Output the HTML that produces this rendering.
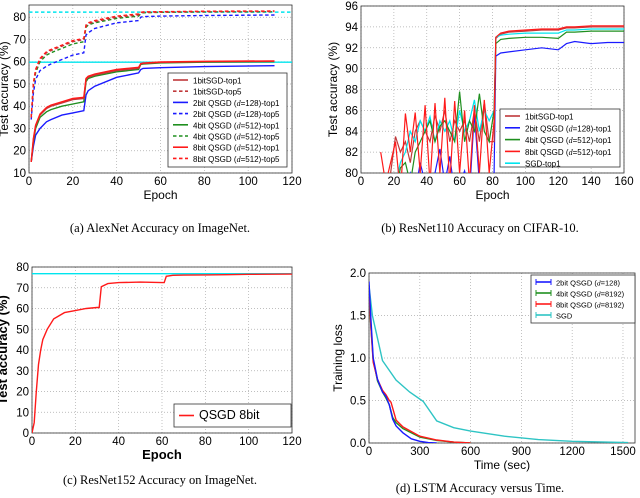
<!DOCTYPE html>
<html><head><meta charset="utf-8"><style>
body{margin:0;background:#fff;width:640px;height:498px;overflow:hidden}
svg{display:block;font-family:"Liberation Sans",sans-serif}
.cap{font-family:"Liberation Serif",serif;font-size:12.5px}
</style></head><body>
<svg id="fig" width="640" height="498" viewBox="0 0 640 498">
<text class="cap" x="160" y="232" text-anchor="middle">(a)  AlexNet Accuracy on ImageNet.</text>
<text class="cap" x="480" y="232" text-anchor="middle">(b)  ResNet110 Accuracy on CIFAR-10.</text>
<text class="cap" x="160" y="484" text-anchor="middle">(c)  ResNet152 Accuracy on ImageNet.</text>
<text class="cap" x="480" y="492" text-anchor="middle">(d)  LSTM Accuracy versus Time.</text>
</svg>
<script>
// ---- Panel (a) data ----
const aEpochs=[1,2,3,5,8,10,15,20,25,26,27,30,40,50,51,52,60,80,112];
const a1bitTop1=[15,25,31,36,39,40,41.5,43,43.5,52,53,54,56,57,59,59.2,59.7,60,60.2];
const a1bitTop5=[35,50,56,61,64,65,67,69,70,76,77,78,80,81,82,82.2,82.3,82.5,82.6];
const a2bitTop1=[15,22,27,30,33,34,36,37,38,45,47,49,53,55,56.5,57,57.3,57.8,58.2];
const a2bitTop5=[34,46,52,56,58,59,61,63,64,72,73,75,77.5,78.5,80,80.3,80.5,80.8,81];
const a4bitTop1=[15,24,30,35,37.5,38.5,40,41,42,51,52.5,53.5,55.5,56.5,58.8,59,59.5,59.8,60];
const a4bitTop5=[35,49,55,60,63,64,66,68,69,75.5,76.5,77.5,79.5,80.5,81.7,82,82.2,82.4,82.5];
const a8bitTop1=[15,25.5,31.5,36.5,39.5,40.5,42,43.5,44,52.5,53.5,54.5,56.5,57.5,59.2,59.4,59.9,60.2,60.4];
const a8bitTop5=[35,50.5,56.5,61.5,64.5,65.5,67.5,69.5,70.5,76.5,77.5,78.5,80.5,81.5,82.2,82.4,82.5,82.7,82.8];
const aRefTop1=59.8, aRefTop5=82.3;
// ---- Panel (b) data ----
const bPreEpochs=[12,15,18,21,24,27,30,33,36,39,42,45,48,51,54,57,60,63,66,69,72,75,78,81];
const b8bitPre=[82,79,81,83,78,85.7,82,85.8,80,86.5,79,86.7,80,87.2,79,86.9,80,86,79,86.5,80,87,80,85];
const b1bitPre=[79,79,80,83.5,82,83,81,84,85,84,83,85.5,84,86,83,85,84,85,83,86,83,86.8,83,83];
const bSgdPre=[78,78,78,79,81,82,84,83,85,84,85.4,83,85,84,85,83,86,84,85,87,84,86,85,86];
const b4bitPre=[78,78,78,78,80.5,81,79,82,83,84,85,83,84.5,85,84,83,87.8,83,85,84,87.6,84,83,86];
const b2bitPre=[75,76,76,77,78,79,80,78,81,79,79,80,82.3,79,81.6,78,79,80.2,78,85.8,79,78,77,80];
const bPostEpochs=[82,85,90,100,110,120,125,130,140,150,160];
const b8bitPost=[93,93.4,93.6,93.7,93.8,93.8,94,94,94.1,94.1,94.1];
const b1bitPost=[92.9,93.3,93.5,93.6,93.7,93.7,93.9,93.9,94,94,94];
const bSgdPost=[93,93.2,93.3,93.4,93.4,93.4,93.7,93.7,93.8,93.8,93.8];
const b4bitPost=[92.4,92.8,92.9,93,93,92.9,93.5,93.5,93.6,93.6,93.6];
const b2bitPost=[91.2,91.5,91.6,91.8,92,91.8,92.4,92.6,92.4,92.5,92.5];
// ---- Panel (c) data ----
const cEpochs=[0,1,2,3,4,5,7,10,15,20,25,30,31,32,35,40,50,60,61,62,65,70,80,90,100,120];
const cQsgd8=[0,5,20,33,40,45,50,55,58,59,60,60.5,60.5,70.5,72,72.5,72.7,72.5,72.5,75.5,76,76.1,76.2,76.3,76.5,76.6];
const cRef=76.8;
// ---- Panel (d) data ----
const d2bitT=[0,10,25,50,80,100,120,140,160,200,250,300,350,400];
const d2bitL=[1.9,1.5,1.0,0.75,0.6,0.55,0.45,0.28,0.2,0.12,0.05,0.02,0.005,0];
const d4bitT=[0,10,25,50,80,100,120,140,160,200,300,400,500,600];
const d4bitL=[1.85,1.4,0.98,0.73,0.6,0.53,0.45,0.3,0.24,0.17,0.07,0.03,0.01,0];
const d8bitT=[0,10,25,50,80,100,120,130,160,200,300,400,500,600];
const d8bitL=[1.85,1.4,0.95,0.75,0.62,0.57,0.5,0.48,0.27,0.19,0.08,0.035,0.01,0];
const dSgdT=[0,20,80,160,240,320,400,500,600,800,1000,1200,1530];
const dSgdL=[1.85,1.5,0.97,0.74,0.6,0.49,0.26,0.18,0.14,0.08,0.04,0.02,0.005];
// tick labels
const aXTicks=[0,20,40,60,80,100,120], aYTicks=[10,20,30,40,50,60,70,80];
const bXTicks=[0,20,40,60,80,100,120,140,160], bYTicks=[80,82,84,86,88,90,92,94,96];
const cXTicks=[0,20,40,60,80,100,120], cYTicks=[0,10,20,30,40,50,60,70,80];
const dXTicks=[0,300,600,900,1200,1500], dYTicks=[0,0.5,1,1.5,2];

const NS='http://www.w3.org/2000/svg';
const fig=document.getElementById('fig');
function el(tag,attrs,parent){const e=document.createElementNS(NS,tag);for(const k in attrs)e.setAttribute(k,attrs[k]);(parent||fig).appendChild(e);return e;}

function panel(id,L,R,T,B,x0,x1,y0,y1,xt,yt,fmtY,xlabel,ylabel,bold,fs,ylOff,lfs){
  const g=el('g',{});
  
  
  const sx=v=>L+(v-x0)/(x1-x0)*(R-L), sy=v=>B-(v-y0)/(y1-y0)*(B-T);
  const cp=el('clipPath',{id:'clip-'+id},g);el('rect',{x:L,y:T,width:R-L,height:B-T},cp);
  xt.forEach(v=>{const x=sx(v);
    const gl=el('line',{x1:x,x2:x,y1:T,y2:B,stroke:'#aaa','stroke-width':0.7,'stroke-dasharray':'1,2'},g);
    
    
    const t=el('text',{x:x,y:B+12,'text-anchor':'middle','font-size':fs},g);t.textContent=v;
    
    });
  yt.forEach(v=>{const y=sy(v);
    const gl=el('line',{x1:L,x2:R,y1:y,y2:y,stroke:'#aaa','stroke-width':0.7,'stroke-dasharray':'1,2'},g);
    
    
    const t=el('text',{x:L-3,y:y+4,'text-anchor':'end','font-size':fs},g);t.textContent=fmtY(v);
    
    });
  const fr=el('rect',{x:L,y:T,width:R-L,height:B-T,fill:'none',stroke:'#333','stroke-width':0.8},g);
  
  
  const xl=el('text',{x:(L+R)/2,y:B+26,'text-anchor':'middle','font-size':lfs,'font-weight':bold?'bold':'normal'},g);xl.textContent=xlabel;
  
  
  const yl=el('text',{transform:`translate(${L-ylOff},${(T+B)/2}) rotate(-90)`,'text-anchor':'middle','font-size':lfs,'font-weight':bold?'bold':'normal'},g);yl.textContent=ylabel;
  
  
  const plot=el('g',{'clip-path':`url(#clip-${id})`},g);
  return {g,plot,sx,sy};
}
function line(p,xs,ys,color,name,dash,w){
  const d=xs.map((x,i)=>(i?'L':'M')+p.sx(x).toFixed(1)+','+p.sy(ys[i]).toFixed(1)).join('');
  const pa=el('path',{d:d,fill:'none',stroke:color,'stroke-width':w||1.4,'stroke-dasharray':dash||'none'},p.plot);
  
  
}
function hline(p,v,x0,x1,color,name,dash){
  const l=el('line',{x1:p.sx(x0),x2:p.sx(x1),y1:p.sy(v),y2:p.sy(v),stroke:color,'stroke-width':1.4,'stroke-dasharray':dash||'none'},p.plot);
  
  
}
function legend(p,x,y,w,h,items,fs,rowH,x0,errbar){
  const lg=el('g',{},p.g);
  
  
  el('rect',{x:x,y:y,width:w,height:h,fill:'#fff',stroke:'#333','stroke-width':0.8},lg);
  items.forEach((it,i)=>{const yy=y+x0+i*rowH;
    const e=el('g',{},lg);
    
    
    el('line',{x1:x+5,x2:x+20,y1:yy,y2:yy,stroke:it[1],'stroke-width':1.6,'stroke-dasharray':it[2]||'none'},e);
    if(errbar){el('line',{x1:x+5,x2:x+5,y1:yy-3,y2:yy+3,stroke:it[1]},e);el('line',{x1:x+20,x2:x+20,y1:yy-3,y2:yy+3,stroke:it[1]},e);}
    const t=el('text',{x:x+25,y:yy+3.5,'font-size':fs},e);t.innerHTML=it[0];});
}
const DR='#c0393b',R='#ff1a1a',G='#1f8f1f',B='#1a1aff',C='#00e5ee',DS='3.5,2.5';
const dd='<tspan font-style="italic" font-family="Liberation Serif">d</tspan>';
// (a)
const pa=panel('a',29,292,5,173,0,120,10,85.5,aXTicks,aYTicks,v=>v,'Epoch','Test accuracy (%)',false,11.5,21,12);
hline(pa,aRefTop5,0,120,C,'sgd-top5-reference',DS);hline(pa,aRefTop1,0,120,C,'sgd-top1-reference');
line(pa,aEpochs,a2bitTop5,B,'series-2bit-top5',DS);line(pa,aEpochs,a4bitTop5,G,'series-4bit-top5',DS);
line(pa,aEpochs,a1bitTop5,DR,'series-1bit-top5',DS);line(pa,aEpochs,a8bitTop5,R,'series-8bit-top5',DS);
line(pa,aEpochs,a2bitTop1,B,'series-2bit-top1');line(pa,aEpochs,a4bitTop1,G,'series-4bit-top1');
line(pa,aEpochs,a1bitTop1,DR,'series-1bit-top1');line(pa,aEpochs,a8bitTop1,R,'series-8bit-top1');
legend(pa,168,73,119,94,[['1bitSGD-top1',DR],['1bitSGD-top5',DR,DS],['2bit QSGD ('+dd+'=128)-top1',B],['2bit QSGD ('+dd+'=128)-top5',B,DS],['4bit QSGD ('+dd+'=512)-top1',G],['4bit QSGD ('+dd+'=512)-top5',G,DS],['8bit QSGD ('+dd+'=512)-top1',R],['8bit QSGD ('+dd+'=512)-top5',R,DS]],8,11.2,7);
// (b)
const pb=panel('b',361,624,6,173,0,160,80,96,bXTicks,bYTicks,v=>v,'Epoch','Test accuracy (%)',false,11.5,24,12);
[[b2bitPre,b2bitPost,B,'2bit'],[b1bitPre,b1bitPost,DR,'1bit'],[bSgdPre,bSgdPost,C,'sgd'],[b4bitPre,b4bitPost,G,'4bit'],[b8bitPre,b8bitPost,R,'8bit']].forEach(s=>{
  line(pb,bPreEpochs.concat(bPostEpochs),s[0].concat(s[1]),s[2],'series-'+s[3]+'-top1',null,1.2);});
legend(pb,500,109,120,58,[['1bitSGD-top1',DR],['2bit QSGD ('+dd+'=128)-top1',B],['4bit QSGD ('+dd+'=512)-top1',G],['8bit QSGD ('+dd+'=512)-top1',R],['SGD-top1',C]],8,11.8,7);
// (c)
const pc=panel('c',32,292,267,433,0,120,0,80,cXTicks,cYTicks,v=>v,'Epoch','Test accuracy (%)',true,11.5,25,13);
hline(pc,cRef,0,120,C,'reference-accuracy');
line(pc,cEpochs,cQsgd8,R,'series-qsgd-8bit');
legend(pc,174,404,117,23,[['QSGD 8bit',R]],12.5,0,11.5);
// (d)
const pd=panel('d',369,635,273,443,0,1571,0,2,dXTicks,dYTicks,v=>v.toFixed(1),'Time (sec)','Training loss',false,11.5,27,12);
line(pd,dSgdT,dSgdL,'#2ec4c4','series-sgd');line(pd,d4bitT,d4bitL,G,'series-4bit');
line(pd,d8bitT,d8bitL,R,'series-8bit');line(pd,d2bitT,d2bitL,B,'series-2bit');
legend(pd,531,275,104,48,[['2bit QSGD ('+dd+'=128)',B],['4bit QSGD ('+dd+'=8192)',G],['8bit QSGD ('+dd+'=8192)',R],['SGD','#2ec4c4']],7.5,11,7,true);
</script>
</body></html>
